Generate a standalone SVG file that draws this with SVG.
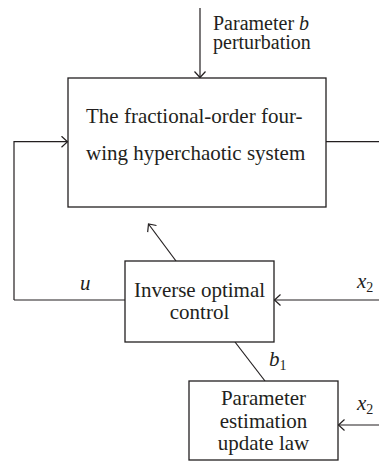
<svg xmlns="http://www.w3.org/2000/svg" width="379" height="462" viewBox="0 0 379 462">
<style>
.box{fill:#fff;stroke:#231f20;stroke-width:1.3}
.ln{fill:none;stroke:#231f20;stroke-width:1.2}
.t{font-family:"Liberation Serif","Times New Roman",serif;font-size:21px;fill:#231f20}
.c{text-anchor:middle}
.i{font-style:italic}
.sub{font-size:14px}
.top{font-size:20px}
</style>
<defs>
<marker id="ah" markerUnits="userSpaceOnUse" markerWidth="12" markerHeight="12" refX="7" refY="6" orient="auto" viewBox="0 0 12 12">
<path d="M1,0.5 L7,6 L1,11.5" fill="none" stroke="#231f20" stroke-width="1.2"/>
</marker>
</defs>
<g id="connectors">
<path class="ln" d="M200,8 V77.5" marker-end="url(#ah)"/>
<path class="ln" d="M14,300 V141.7 H67.5" marker-end="url(#ah)"/>
<path class="ln" d="M125,300 H14"/>
<path class="ln" d="M326,141.7 H379"/>
<path class="ln" d="M176,261 L148.5,224" marker-end="url(#ah)"/>
<path class="ln" d="M379,300 H274.5" marker-end="url(#ah)"/>
<path class="ln" d="M235,342 L265,381"/>
<path class="ln" d="M379,425 H338.5" marker-end="url(#ah)"/>
</g>
<g id="label-param-b">
<text class="t top" x="213" y="30">Parameter <tspan class="i">b</tspan></text>
<text class="t top" x="213" y="49">perturbation</text>
</g>
<g id="system">
<rect class="box" x="68" y="78" width="258" height="129"/>
<text class="t" x="86" y="123">The fractional-order four-</text>
<text class="t" x="86" y="160">wing hyperchaotic system</text>
</g>
<g id="control">
<rect class="box" x="125" y="261" width="149" height="81"/>
<text class="t c" x="199.5" y="297">Inverse optimal</text>
<text class="t c" x="199.5" y="319">control</text>
</g>
<g id="estimation">
<rect class="box" x="189" y="381" width="149" height="79"/>
<text class="t c" x="263.5" y="405">Parameter</text>
<text class="t c" x="263.5" y="428">estimation</text>
<text class="t c" x="263.5" y="450">update law</text>
</g>
<g id="labels">
<text class="t i" x="80" y="290">u</text>
<text class="t i" x="357" y="288">x<tspan class="sub" font-style="normal" dy="4">2</tspan></text>
<text class="t i" x="269" y="366">b<tspan class="sub" font-style="normal" dy="4">1</tspan></text>
<text class="t i" x="357" y="410">x<tspan class="sub" font-style="normal" dy="4">2</tspan></text>
</g>
</svg>
